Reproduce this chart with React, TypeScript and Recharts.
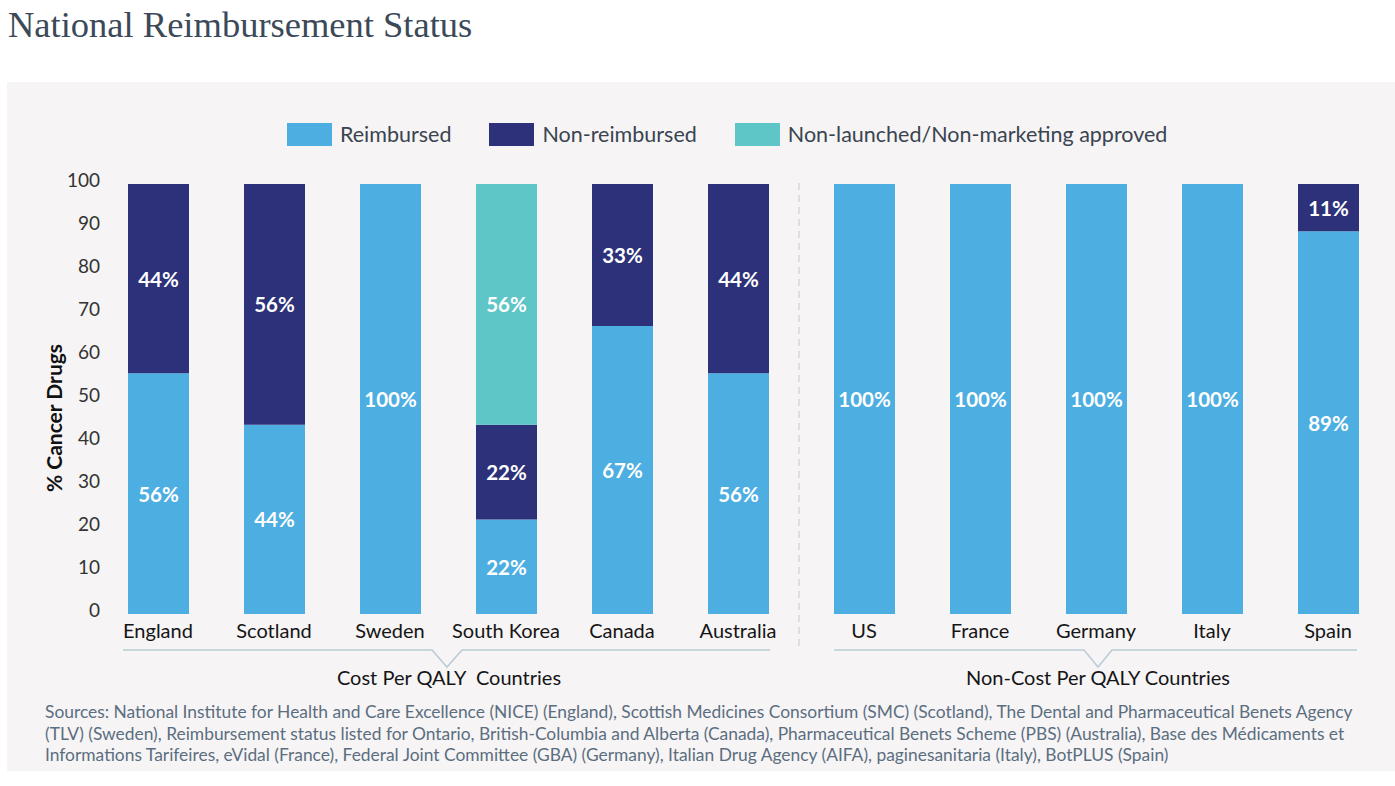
import { BarChart, Bar, XAxis, YAxis, LabelList } from 'recharts';

document.body.style.margin = '0';

const costCountries = ['England', 'Scotland', 'Sweden', 'South Korea', 'Canada', 'Australia'];
const costReimbursed = [56, 44, 100, 22, 67, 56];
const costNonReimbursed = [44, 56, 0, 22, 33, 44];
const costNonLaunched = [0, 0, 0, 56, 0, 0];

const otherCountries = ['US', 'France', 'Germany', 'Italy', 'Spain'];
const otherReimbursed = [100, 100, 100, 100, 89];
const otherNonReimbursed = [0, 0, 0, 0, 11];
const otherNonLaunched = [0, 0, 0, 0, 0];

const yTicks = [0, 10, 20, 30, 40, 50, 60, 70, 80, 90, 100];

const series = [
  { key: 'reimbursed', name: 'Reimbursed', color: '#4daee1' },
  { key: 'nonReimbursed', name: 'Non-reimbursed', color: '#2c3179' },
  { key: 'nonLaunched', name: 'Non-launched/Non-marketing approved', color: '#5ec6c6' },
];

const sources = [
  'Sources: National Institute for Health and Care Excellence (NICE) (England), Scottish Medicines Consortium (SMC) (Scotland), The Dental and Pharmaceutical Benets Agency',
  '(TLV) (Sweden), Reimbursement status listed for Ontario, British-Columbia and Alberta (Canada), Pharmaceutical Benets Scheme (PBS) (Australia), Base des Médicaments et',
  'Informations Tarifeires, eVidal (France), Federal Joint Committee (GBA) (Germany), Italian Drug Agency (AIFA), paginesanitaria (Italy), BotPLUS (Spain)',
];

const FONT = 'Lato, "Open Sans", sans-serif';

const costData = costCountries.map((name, i) => ({
  name,
  reimbursed: costReimbursed[i],
  nonReimbursed: costNonReimbursed[i],
  nonLaunched: costNonLaunched[i],
}));

const otherData = otherCountries.map((name, i) => ({
  name,
  reimbursed: otherReimbursed[i],
  nonReimbursed: otherNonReimbursed[i],
  nonLaunched: otherNonLaunched[i],
}));

const renderLabel = (props: any) => {
  const { x, y, width, height, value } = props;
  if (!value) return null;
  return (
    <text
      x={x + width / 2}
      y={y + height / 2}
      textAnchor="middle"
      dominantBaseline="central"
      fill="#ffffff"
      fontSize={20.5}
      fontWeight={700}
      fontFamily={FONT}
    >
      {`${value}%`}
    </text>
  );
};

function Bars() {
  return series.map((s) => (
    <Bar
      key={s.key}
      dataKey={s.key}
      name={s.name}
      stackId="a"
      fill={s.color}
      barSize={61}
      isAnimationActive={false}
    >
      <LabelList dataKey={s.key} content={renderLabel} />
    </Bar>
  ));
}

const xTick = { fontSize: 20, fill: '#151515', fontFamily: FONT };

export default function App() {
  return (
    <div style={{ position: 'relative', width: 1395, height: 786, fontFamily: FONT, overflow: 'hidden' }}>
      <div
        style={{
          position: 'absolute',
          left: 8,
          top: 3,
          fontFamily: '"Liberation Serif", serif',
          fontSize: 36.5,
          color: '#3b4958',
          whiteSpace: 'nowrap',
        }}
      >
        National Reimbursement Status
      </div>

      <div style={{ position: 'absolute', left: 7, top: 82, width: 1388, height: 689, background: '#f6f4f5' }} />

      <div style={{ position: 'absolute', left: 287, top: 121, display: 'flex', alignItems: 'center', gap: 38 }}>
        {series.map((s) => (
          <div key={s.key} style={{ display: 'flex', alignItems: 'center', gap: 8 }}>
            <div style={{ width: 45, height: 23, background: s.color }} />
            <span style={{ fontSize: 21.5, color: '#3a4450', whiteSpace: 'nowrap' }}>{s.name}</span>
          </div>
        ))}
      </div>

      <div style={{ position: 'absolute', left: 0, top: 160 }}>
        <BarChart width={800} height={490} data={costData} margin={{ top: 24, right: 4, bottom: 0, left: 0 }}>
          <XAxis
            dataKey="name"
            height={36}
            axisLine={false}
            tickLine={false}
            tickSize={0}
            tickMargin={10}
            tick={xTick}
            interval={0}
          />
          <YAxis
            domain={[0, 100]}
            ticks={yTicks}
            width={100}
            axisLine={false}
            tickLine={false}
            tickSize={0}
            tickMargin={0}
            tick={{ fontSize: 19, fill: '#333333', fontFamily: FONT, dy: -4 }}
          />
          {Bars()}
        </BarChart>
      </div>

      <div style={{ position: 'absolute', left: 806, top: 160 }}>
        <BarChart width={589} height={490} data={otherData} margin={{ top: 24, right: 9, bottom: 0, left: 0 }}>
          <XAxis
            dataKey="name"
            height={36}
            axisLine={false}
            tickLine={false}
            tickSize={0}
            tickMargin={10}
            tick={xTick}
            interval={0}
          />
          <YAxis hide domain={[0, 100]} ticks={yTicks} />
          {Bars()}
        </BarChart>
      </div>

      <div
        style={{
          position: 'absolute',
          left: 53,
          top: 418,
          transform: 'translate(-50%, -50%) rotate(-90deg)',
          fontSize: 21,
          fontWeight: 700,
          color: '#111111',
          whiteSpace: 'nowrap',
        }}
      >
        % Cancer Drugs
      </div>

      <svg style={{ position: 'absolute', left: 0, top: 0 }} width={1395} height={786}>
        <line x1={799} y1={183} x2={799} y2={650} stroke="#d6d6d6" strokeWidth={1.5} strokeDasharray="7 5" />
        <polyline points="123,650 432,650 447,667 462,650 770,650" fill="none" stroke="#b9cbd6" strokeWidth={1.5} />
        <polyline points="834,650 1084,650 1098,667 1112,650 1357,650" fill="none" stroke="#b9cbd6" strokeWidth={1.5} />
        <text x={449} y={677} textAnchor="middle" dominantBaseline="central" fontSize={20} fill="#151515" fontFamily={FONT} style={{ whiteSpace: 'pre' }}>
          {'Cost Per QALY  Countries'}
        </text>
        <text x={1098} y={677} textAnchor="middle" dominantBaseline="central" fontSize={20} fill="#151515" fontFamily={FONT}>
          Non-Cost Per QALY Countries
        </text>
      </svg>

      <div style={{ position: 'absolute', left: 45, top: 701, fontSize: 17.4, lineHeight: '21.5px', color: '#5b6e80' }}>
        {sources.map((line) => (
          <div key={line} style={{ whiteSpace: 'nowrap' }}>
            {line}
          </div>
        ))}
      </div>
    </div>
  );
}
